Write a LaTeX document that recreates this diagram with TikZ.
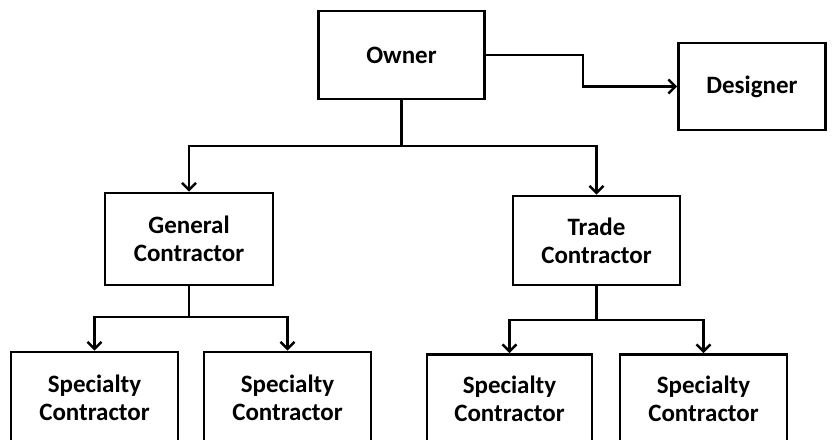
\documentclass[tikz,border=0pt]{standalone}
\usepackage{fontspec}
\setmainfont{Carlito}
\usetikzlibrary{arrows.meta}
\begin{document}
\begin{tikzpicture}[x=1pt,y=-1pt,
  box/.style={draw=black, line width=2.8pt, fill=white, align=center,
    inner sep=0pt, font=\fontsize{25}{28}\selectfont\bfseries},
  link/.style={line width=2.8pt, line join=miter},
  arr/.style={link, -{Straight Barb[length=7pt,width=14pt,line width=2.4pt]}}]
  \useasboundingbox (0,0) rectangle (835,439);
  \clip (0,0) rectangle (835,439);

  % boxes
  \node[box, minimum width=166pt, minimum height=88pt] (owner) at (401.5,55) {Owner};
  \node[box, minimum width=147pt, minimum height=87pt] (designer) at (752,86.5) {Designer};
  \node[box, minimum width=168pt, minimum height=92pt] (gc) at (189,239) {General\\Contractor};
  \node[box, minimum width=167pt, minimum height=89pt] (tc) at (596.5,240.5) {Trade\\Contractor};
  \node[box, minimum width=167pt, minimum height=91pt] (sc1) at (94.5,397.5) {Specialty\\Contractor};
  \node[box, minimum width=167pt, minimum height=91pt] (sc2) at (287.5,397.5) {Specialty\\Contractor};
  \node[box, minimum width=165pt, minimum height=89pt] (sc3) at (509.5,399) {Specialty\\Contractor};
  \node[box, minimum width=167pt, minimum height=89pt] (sc4) at (703.5,399) {Specialty\\Contractor};

  % branch points
  \coordinate (j1) at (401.5,146);
  \coordinate (j2) at (189,317);
  \coordinate (j3) at (596.5,320);

  % connectors
  \draw[arr] (owner.east) -- ++(97,0) |- (designer.west);
  \draw[link] (owner.south) -- (j1);
  \draw[arr] (j1) -| (gc.north);
  \draw[arr] (j1) -| (tc.north);
  \draw[link] (gc.south) -- (j2);
  \draw[arr] (j2) -| (sc1.north);
  \draw[arr] (j2) -| (sc2.north);
  \draw[link] (tc.south) -- (j3);
  \draw[arr] (j3) -| (sc3.north);
  \draw[arr] (j3) -| (sc4.north);
\end{tikzpicture}
\end{document}
